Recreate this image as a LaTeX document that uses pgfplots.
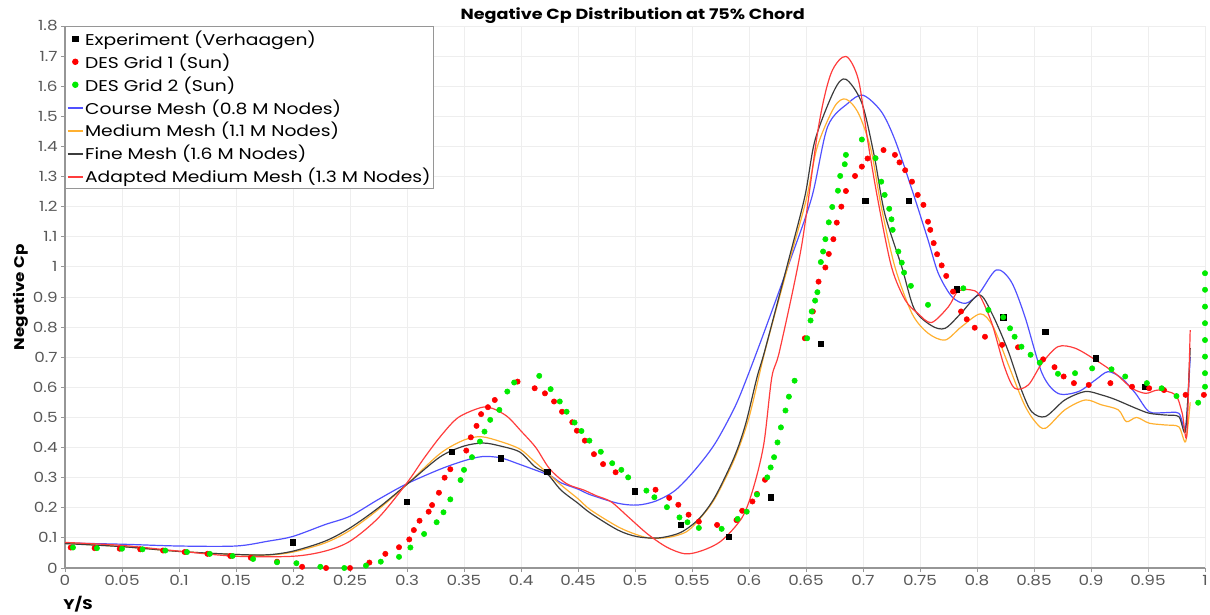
\documentclass[border=0pt]{standalone}
\usepackage{pgfplots}
\pgfplotsset{compat=1.18}
\usepackage{fontspec}
\setmainfont{Poppins}[FakeStretch=1.2]

\definecolor{linegray}{RGB}{150,150,150}
\definecolor{gridgray}{RGB}{238,238,238}
\definecolor{coarseblue}{RGB}{80,80,255}
\definecolor{mediumorange}{RGB}{255,176,48}
\definecolor{finegray}{RGB}{60,60,60}
\definecolor{adaptedred}{RGB}{255,60,60}
\definecolor{dotred}{RGB}{255,0,0}
\definecolor{dotgreen}{RGB}{0,235,0}

\pgfplotsset{meshline/.style={line width=0.9pt, smooth, tension=0.5, legend image post style={line width=1.3pt}}}

\begin{document}
\begin{tikzpicture}
\begin{axis}[
    name=main,
    scale only axis,
    width=855pt, height=406.5pt,
    xmin=0, xmax=1, ymin=0, ymax=1.8,
    axis lines=left,
    axis line style={-, linegray, line width=0.8pt},
    xtick={0,0.05,0.1,0.15,0.2,0.25,0.3,0.35,0.4,0.45,0.5,0.55,0.6,0.65,0.7,0.75,0.8,0.85,0.9,0.95,1},
    xticklabels={0,0.05,0.1,0.15,0.2,0.25,0.3,0.35,0.4,0.45,0.5,0.55,0.6,0.65,0.7,0.75,0.8,0.85,0.9,0.95,1},
    ytick={0,0.1,0.2,0.3,0.4,0.5,0.6,0.7,0.8,0.9,1,1.1,1.2,1.3,1.4,1.5,1.6,1.7,1.8},
    yticklabels={0,0.1,0.2,0.3,0.4,0.5,0.6,0.7,0.8,0.9,1,1.1,1.2,1.3,1.4,1.5,1.6,1.7,1.8},
    tick align=outside,
    major tick length=3pt,
    tick style={linegray, line width=0.6pt},
    ticklabel style={font=\fontsize{10.5}{12}\selectfont, text=black!65},
    xticklabel style={yshift=1pt},
    yticklabel style={xshift=1pt},
    grid=major,
    major grid style={gridgray, line width=0.6pt},
    title={Negative Cp Distribution at 75\% Chord},
    every axis title/.style={at={(axis description cs:0.498,1)}, anchor=center, yshift=8pt, font=\bfseries\fontsize{11}{12}\selectfont},
    xlabel={Y/S},
    ylabel={Negative Cp},
    every axis x label/.style={at={(axis description cs:0.0114,0)}, anchor=center, yshift=-27pt, font=\bfseries\fontsize{10.5}{12}\selectfont},
    every axis y label/.style={at={(axis description cs:-0.0385,0.5)}, anchor=center, rotate=90, font=\bfseries\fontsize{10.5}{12}\selectfont},
    legend cell align=left,
    legend style={at={(axis description cs:0,1)}, anchor=north west, draw=linegray, line width=0.8pt, fill=white,
        font=\fontsize{11.7}{13}\selectfont, inner xsep=1pt, inner ysep=2pt, row sep=2.8pt,
        nodes={inner sep=1pt}},
    legend image code/.code={\draw[mark repeat=2,mark phase=2,#1] plot coordinates {(0cm,0cm) (0.2cm,0cm) (0.4cm,0cm)};},
]
% Experiment (Verhaagen)
\addplot[only marks, mark=square*, mark size=2pt, black] coordinates {
(0.200,0.085) (0.300,0.220) (0.339,0.387) (0.382,0.364) (0.423,0.319) (0.500,0.255)
(0.540,0.143) (0.582,0.103) (0.619,0.235) (0.663,0.745) (0.702,1.220) (0.740,1.220)
(0.782,0.926) (0.823,0.833) (0.860,0.785) (0.904,0.697) (0.947,0.602)
};
\addlegendentry{Experiment (Verhaagen)}

% DES Grid 1 (Sun)
\addplot[only marks, mark=*, mark size=2pt, dotred] coordinates {
(0.005,0.068) (0.026,0.066) (0.048,0.064) (0.066,0.062) (0.086,0.058) (0.105,0.053)
(0.125,0.047) (0.145,0.040) (0.163,0.034) (0.186,0.021) (0.208,0.004) (0.229,0.000)
(0.250,0.000) (0.267,0.018) (0.281,0.047) (0.293,0.069) (0.302,0.095) (0.306,0.126)
(0.311,0.157) (0.319,0.187) (0.322,0.209) (0.328,0.250) (0.333,0.300) (0.338,0.328)
(0.352,0.390) (0.356,0.434) (0.361,0.472) (0.365,0.511) (0.371,0.534) (0.377,0.558)
(0.397,0.619) (0.412,0.597) (0.421,0.580) (0.429,0.553) (0.436,0.519) (0.445,0.484)
(0.449,0.456) (0.456,0.423) (0.464,0.378) (0.472,0.345) (0.483,0.318) (0.518,0.260)
(0.530,0.233) (0.538,0.210) (0.547,0.177) (0.556,0.154) (0.572,0.143) (0.589,0.159)
(0.594,0.190) (0.603,0.221) (0.607,0.246) (0.614,0.293) (0.649,0.763) (0.656,0.852)
(0.661,0.951) (0.667,0.998) (0.670,1.043) (0.674,1.092) (0.677,1.147) (0.681,1.200)
(0.685,1.252) (0.693,1.302) (0.699,1.333) (0.704,1.360) (0.718,1.388) (0.728,1.372)
(0.732,1.347) (0.737,1.321) (0.743,1.283) (0.748,1.239) (0.753,1.206) (0.757,1.150)
(0.759,1.123) (0.762,1.079) (0.765,1.042) (0.769,1.005) (0.773,0.970) (0.779,0.918)
(0.786,0.852) (0.791,0.826) (0.798,0.798) (0.807,0.768) (0.822,0.741) (0.836,0.733)
(0.858,0.693) (0.868,0.667) (0.876,0.636) (0.885,0.614) (0.898,0.608) (0.917,0.614)
(0.936,0.602) (0.951,0.597) (0.964,0.591) (0.983,0.575) (0.999,0.575)
};
\addlegendentry{DES Grid 1 (Sun)}

% DES Grid 2 (Sun)
\addplot[only marks, mark=*, mark size=2pt, dotgreen] coordinates {
(0.007,0.068) (0.028,0.066) (0.050,0.064) (0.068,0.062) (0.088,0.058) (0.107,0.053)
(0.127,0.047) (0.147,0.040) (0.165,0.030) (0.186,0.019) (0.203,0.016) (0.224,0.004)
(0.245,0.000) (0.264,0.008) (0.277,0.021) (0.293,0.037) (0.303,0.068) (0.315,0.113)
(0.326,0.152) (0.332,0.185) (0.338,0.228) (0.347,0.292) (0.350,0.326) (0.357,0.368)
(0.364,0.420) (0.368,0.453) (0.373,0.492) (0.381,0.525) (0.388,0.586) (0.394,0.616)
(0.416,0.638) (0.426,0.594) (0.434,0.553) (0.440,0.519) (0.447,0.483) (0.453,0.455)
(0.460,0.423) (0.470,0.386) (0.480,0.348) (0.488,0.326) (0.494,0.301) (0.510,0.257)
(0.517,0.235) (0.528,0.202) (0.539,0.168) (0.546,0.152) (0.556,0.133) (0.576,0.130)
(0.590,0.163) (0.598,0.187) (0.607,0.244) (0.616,0.301) (0.619,0.334) (0.622,0.368)
(0.625,0.417) (0.628,0.467) (0.632,0.523) (0.635,0.569) (0.640,0.622) (0.651,0.763)
(0.654,0.822) (0.655,0.852) (0.658,0.888) (0.660,0.916) (0.663,1.016) (0.665,1.051)
(0.667,1.092) (0.670,1.148) (0.673,1.199) (0.678,1.253) (0.680,1.302) (0.684,1.341)
(0.685,1.372) (0.699,1.423) (0.711,1.361) (0.716,1.283) (0.719,1.239) (0.723,1.193)
(0.725,1.158) (0.726,1.123) (0.731,1.051) (0.734,1.014) (0.736,0.981) (0.742,0.937)
(0.757,0.874) (0.788,0.929) (0.810,0.857) (0.823,0.833) (0.829,0.796) (0.833,0.768)
(0.839,0.735) (0.847,0.708) (0.855,0.682) (0.871,0.645) (0.886,0.647) (0.901,0.663)
(0.918,0.660) (0.930,0.636) (0.949,0.614) (0.962,0.597) (0.975,0.571) (0.994,0.549)
(1.000,0.602) (1.000,0.647) (1.000,0.702) (1.000,0.757) (1.000,0.813) (1.000,0.868)
(1.000,0.924) (1.000,0.979)
};
\addlegendentry{DES Grid 2 (Sun)}

% Course Mesh (0.8 M Nodes)
\addplot[coarseblue, meshline] coordinates {
(0.000,0.083) (0.050,0.079) (0.100,0.073) (0.150,0.073) (0.178,0.089) (0.200,0.105)
(0.228,0.144) (0.250,0.172) (0.275,0.228) (0.300,0.280) (0.329,0.328) (0.350,0.356)
(0.366,0.370) (0.382,0.366) (0.399,0.344) (0.412,0.326) (0.426,0.306) (0.435,0.283)
(0.450,0.262) (0.461,0.243) (0.485,0.215) (0.502,0.209) (0.518,0.222) (0.535,0.257)
(0.552,0.323) (0.570,0.412) (0.587,0.530) (0.597,0.620) (0.612,0.770) (0.635,1.010)
(0.655,1.230) (0.669,1.466) (0.687,1.544) (0.700,1.570) (0.716,1.516) (0.728,1.422)
(0.743,1.256) (0.757,1.090) (0.766,0.979) (0.778,0.901) (0.790,0.879) (0.802,0.913)
(0.817,0.990) (0.830,0.951) (0.842,0.835) (0.857,0.647) (0.871,0.580) (0.889,0.586)
(0.904,0.625) (0.915,0.652) (0.927,0.630) (0.939,0.580) (0.951,0.519) (0.965,0.516)
(0.977,0.514) (0.983,0.469) (0.987,0.700)
};
\addlegendentry{Course Mesh (0.8 M Nodes)}

% Medium Mesh (1.1 M Nodes)
\addplot[mediumorange, meshline] coordinates {
(0.000,0.082) (0.050,0.071) (0.100,0.055) (0.150,0.045) (0.178,0.043) (0.200,0.053)
(0.228,0.083) (0.250,0.125) (0.275,0.195) (0.300,0.278) (0.329,0.380) (0.350,0.425)
(0.365,0.436) (0.382,0.420) (0.399,0.395) (0.412,0.353) (0.435,0.276) (0.450,0.230)
(0.461,0.193) (0.485,0.137) (0.502,0.110) (0.514,0.099) (0.530,0.102) (0.545,0.120)
(0.556,0.160) (0.570,0.230) (0.587,0.360) (0.600,0.500) (0.614,0.720) (0.634,1.000)
(0.650,1.220) (0.660,1.400) (0.675,1.532) (0.685,1.557) (0.696,1.510) (0.707,1.389)
(0.716,1.200) (0.728,1.000) (0.743,0.845) (0.757,0.780) (0.772,0.757) (0.786,0.800)
(0.803,0.844) (0.814,0.802) (0.827,0.680) (0.841,0.547) (0.851,0.486) (0.860,0.464)
(0.877,0.525) (0.895,0.558) (0.909,0.542) (0.924,0.525) (0.931,0.486) (0.940,0.500)
(0.951,0.481) (0.965,0.475) (0.977,0.469) (0.983,0.420) (0.987,0.550)
};
\addlegendentry{Medium Mesh (1.1 M Nodes)}

% Fine Mesh (1.6 M Nodes)
\addplot[finegray, meshline] coordinates {
(0.000,0.081) (0.050,0.071) (0.100,0.055) (0.150,0.045) (0.178,0.044) (0.200,0.056)
(0.228,0.089) (0.250,0.133) (0.275,0.200) (0.300,0.278) (0.329,0.369) (0.350,0.405)
(0.367,0.415) (0.382,0.405) (0.399,0.385) (0.412,0.337) (0.423,0.313) (0.435,0.259)
(0.450,0.215) (0.461,0.182) (0.485,0.126) (0.502,0.104) (0.521,0.100) (0.540,0.118)
(0.556,0.163) (0.570,0.235) (0.587,0.368) (0.597,0.478) (0.607,0.633) (0.614,0.724)
(0.634,1.012) (0.649,1.234) (0.658,1.422) (0.675,1.588) (0.685,1.623) (0.699,1.544)
(0.710,1.366) (0.719,1.178) (0.734,1.000) (0.745,0.860) (0.760,0.805) (0.772,0.796)
(0.786,0.846) (0.802,0.907) (0.813,0.846) (0.827,0.724) (0.839,0.591) (0.848,0.519)
(0.860,0.503) (0.877,0.558) (0.895,0.586) (0.909,0.575) (0.921,0.560) (0.939,0.531)
(0.951,0.514) (0.965,0.508) (0.977,0.503) (0.983,0.458) (0.987,0.730)
};
\addlegendentry{Fine Mesh (1.6 M Nodes)}

% Adapted Medium Mesh (1.3 M Nodes)
\addplot[adaptedred, meshline] coordinates {
(0.000,0.085) (0.050,0.075) (0.100,0.056) (0.150,0.039) (0.200,0.039) (0.228,0.056)
(0.250,0.089) (0.275,0.167) (0.300,0.283) (0.315,0.365) (0.330,0.440) (0.345,0.500)
(0.365,0.533) (0.375,0.530) (0.388,0.503) (0.400,0.455) (0.413,0.400) (0.425,0.330)
(0.440,0.280) (0.455,0.259) (0.466,0.240) (0.479,0.220) (0.494,0.170) (0.511,0.113)
(0.528,0.069) (0.544,0.047) (0.559,0.058) (0.576,0.091) (0.594,0.168) (0.604,0.268)
(0.613,0.412) (0.620,0.633) (0.627,0.724) (0.646,1.067) (0.661,1.466) (0.672,1.643)
(0.685,1.699) (0.696,1.621) (0.704,1.422) (0.713,1.223) (0.725,1.000) (0.737,0.890)
(0.748,0.846) (0.760,0.815) (0.775,0.868) (0.783,0.918) (0.794,0.924) (0.802,0.907)
(0.813,0.813) (0.824,0.669) (0.833,0.597) (0.845,0.608) (0.857,0.680) (0.871,0.735)
(0.886,0.730) (0.904,0.691) (0.921,0.647) (0.936,0.597) (0.948,0.580) (0.959,0.591)
(0.974,0.575) (0.980,0.514) (0.984,0.440) (0.987,0.790)
};
\addlegendentry{Adapted Medium Mesh (1.3 M Nodes)}
\end{axis}
\pgfresetboundingbox
\path (-48.75pt,-34.5pt) rectangle (858.75pt,426pt);
\end{tikzpicture}
\end{document}
